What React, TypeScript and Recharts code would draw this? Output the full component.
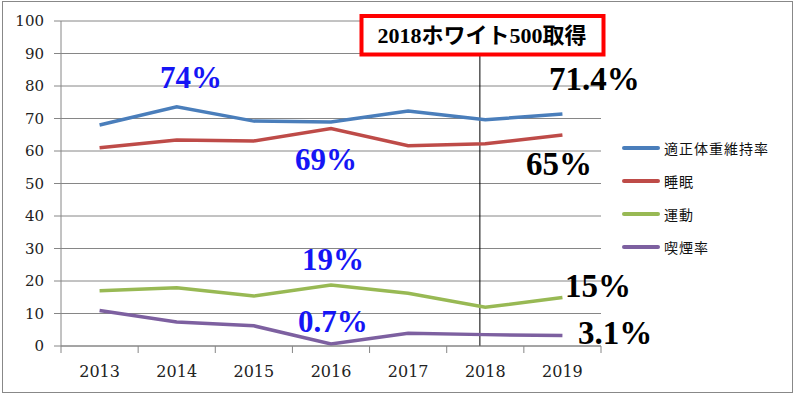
import React from "react";
import {
  LineChart,
  Line,
  XAxis,
  YAxis,
  CartesianGrid,
  Legend,
  ReferenceLine,
} from "recharts";

const years = [2013, 2014, 2015, 2016, 2017, 2018, 2019];
const weightRate = [68.0, 73.6, 69.2, 68.9, 72.3, 69.6, 71.4];
const sleepRate = [61.0, 63.4, 63.1, 66.9, 61.6, 62.2, 64.9];
const exerciseRate = [17.0, 17.9, 15.4, 18.8, 16.2, 11.9, 14.9];
const smokingRate = [10.9, 7.4, 6.2, 0.6, 3.9, 3.5, 3.2];

const yTicks = [0, 10, 20, 30, 40, 50, 60, 70, 80, 90, 100];
const xBounds = [2012.5, 2013.5, 2014.5, 2015.5, 2016.5, 2017.5, 2018.5, 2019.5];

const seriesKeys = ["weight", "sleep", "exercise", "smoking"];
const seriesNames = ["適正体重維持率", "睡眠", "運動", "喫煙率"];
const seriesColors = ["#4A7EBB", "#BE4B48", "#98B954", "#7D60A0"];

const markerYear = 2017.93;
const boxTitle = "2018ホワイト500取得";

const notes = [
  { text: "74%", x: 160, y: 88, color: "#1515F5" },
  { text: "69%", x: 295, y: 170, color: "#1515F5" },
  { text: "19%", x: 302, y: 270, color: "#1515F5" },
  { text: "0.7%", x: 298, y: 332, color: "#1515F5" },
  { text: "71.4%", x: 549, y: 90, color: "#000" },
  { text: "65%", x: 526, y: 175, color: "#000" },
  { text: "15%", x: 565, y: 297, color: "#000" },
  { text: "3.1%", x: 578, y: 344, color: "#000" },
];

const data = years.map((year, i) => ({
  year,
  weight: weightRate[i],
  sleep: sleepRate[i],
  exercise: exerciseRate[i],
  smoking: smokingRate[i],
}));

const W = 796;
const H = 397;
const margin = { top: 21, right: 195, left: 11, bottom: 21 };
const yAxisWidth = 50;
const plotWidth = W - margin.left - margin.right - yAxisWidth;
const step = plotWidth / years.length;

const serif = "'DejaVu Serif', serif";

const YearTick = (props: any) => {
  const { x, y, payload } = props;
  if (payload.value >= xBounds[xBounds.length - 1]) return null;
  return (
    <text
      x={x + step / 2}
      y={y}
      dy="0.71em"
      textAnchor="middle"
      fill="#222"
      fontSize={16}
      fontFamily={serif}
    >
      {payload.value + 0.5}
    </text>
  );
};

const ValueTick = (props: any) => {
  const { x, y, payload } = props;
  return (
    <text
      x={x}
      y={y}
      dy="0.355em"
      textAnchor="end"
      fill="#222"
      fontSize={15}
      fontFamily={serif}
    >
      {payload.value}
    </text>
  );
};

const LegendBox = () => (
  <div style={{ fontFamily: "'Noto Sans CJK JP', sans-serif", fontSize: 14 }}>
    {seriesNames.map((name, i) => (
      <div
        key={name}
        style={{ display: "flex", alignItems: "center", height: 33 }}
      >
        <span
          style={{
            width: 38,
            height: 4,
            borderRadius: 2,
            background: seriesColors[i],
            marginRight: 4,
          }}
        />
        <span style={{ color: "#111", letterSpacing: 1 }}>{name}</span>
      </div>
    ))}
  </div>
);

export default function App() {
  return (
    <div style={{ position: "absolute", left: 0, top: 0, width: W, height: H, background: "#fff" }}>
      <LineChart width={W} height={H} data={data} margin={margin}>
        <CartesianGrid vertical={false} stroke="#868686" strokeWidth={1} />
        <XAxis
          dataKey="year"
          type="number"
          domain={[xBounds[0], xBounds[xBounds.length - 1]]}
          ticks={xBounds}
          interval={0}
          height={30}
          stroke="#868686"
          tickSize={7}
          tickMargin={13}
          tick={<YearTick />}
        />
        <YAxis
          domain={[0, 100]}
          ticks={yTicks}
          interval={0}
          width={yAxisWidth}
          stroke="#868686"
          tickSize={7}
          tickMargin={10}
          tick={<ValueTick />}
        />
        <ReferenceLine x={markerYear} stroke="#000" strokeWidth={1} />
        <Legend
          layout="horizontal"
          verticalAlign="middle"
          align="center"
          content={<LegendBox />}
          wrapperStyle={{ left: 622, top: 131, width: 170 }}
        />
        {seriesKeys.map((key, i) => (
          <Line
            key={key}
            dataKey={key}
            name={seriesNames[i]}
            stroke={seriesColors[i]}
            strokeWidth={3.5}
            dot={false}
            isAnimationActive={false}
          />
        ))}
      </LineChart>
      <svg
        width={W}
        height={H}
        style={{ position: "absolute", left: 0, top: 0, pointerEvents: "none" }}
      >
        <rect x={2.5} y={1.5} width={790} height={391} fill="none" stroke="#888" />
        <rect x={361.5} y={16} width={242} height={38.5} fill="#fff" stroke="#FF0000" strokeWidth={4} />
        <text
          x={482}
          y={43}
          textAnchor="middle"
          fontSize={22}
          fontWeight="bold"
          fontFamily="'Liberation Serif', 'Noto Sans CJK JP', serif"
          fill="#000"
        >
          {boxTitle}
        </text>
        {notes.map((n) => (
          <text
            key={n.text}
            x={n.x}
            y={n.y}
            fontSize={n.color === "#000" ? 33 : 31}
            fontWeight="bold"
            fontFamily="'Liberation Serif', serif"
            fill={n.color}
          >
            {n.text}
          </text>
        ))}
      </svg>
    </div>
  );
}
